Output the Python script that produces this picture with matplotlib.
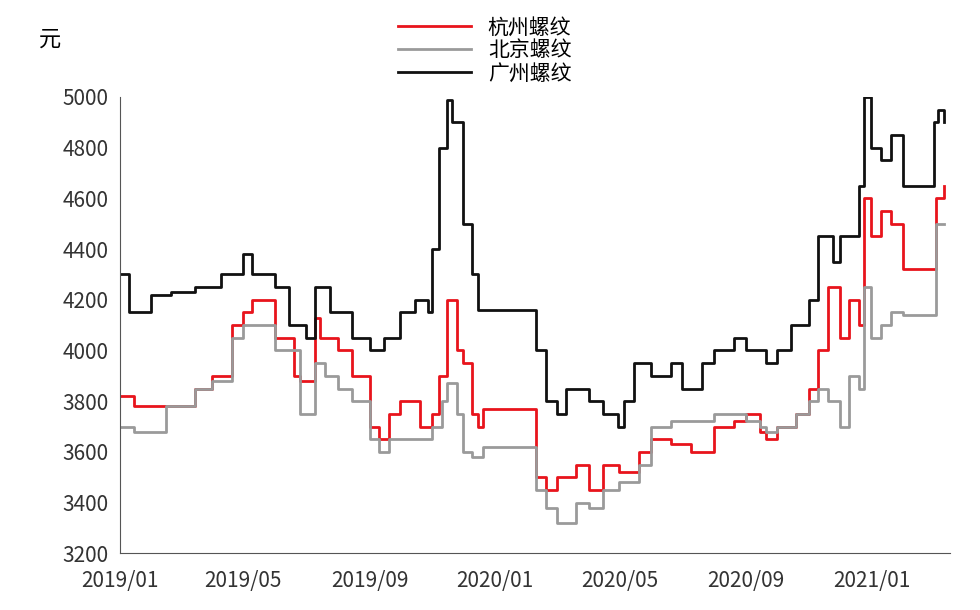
import matplotlib
matplotlib.use("Agg")
import matplotlib.pyplot as plt
import pandas as pd

plt.rcParams['font.family'] = ['Noto Sans CJK SC', 'DejaVu Sans']

gz_dates = ["2019-01-01","2019-01-10","2019-02-01","2019-02-20","2019-03-15","2019-04-10","2019-05-01","2019-05-10","2019-06-01","2019-06-15","2019-07-01","2019-07-10","2019-07-25","2019-08-15","2019-09-01","2019-09-15","2019-10-01","2019-10-15","2019-10-28","2019-11-01","2019-11-08","2019-11-15","2019-11-20","2019-12-01","2019-12-10","2019-12-15","2020-02-01","2020-02-10","2020-02-20","2020-03-01","2020-03-10","2020-04-01","2020-04-15","2020-04-30","2020-05-05","2020-05-15","2020-06-01","2020-06-20","2020-07-01","2020-07-20","2020-08-01","2020-08-20","2020-09-01","2020-09-20","2020-10-01","2020-10-15","2020-11-01","2020-11-10","2020-11-25","2020-12-01","2020-12-20","2020-12-25","2021-01-01","2021-01-10","2021-01-20","2021-02-01","2021-02-28","2021-03-03","2021-03-07","2021-03-13"]
gz_vals = [4300,4150,4220,4230,4250,4300,4380,4300,4250,4100,4050,4250,4150,4050,4000,4050,4150,4200,4150,4400,4800,4990,4900,4500,4300,4160,4160,4000,3800,3750,3850,3800,3750,3700,3800,3950,3900,3950,3850,3950,4000,4050,4000,3950,4000,4100,4200,4450,4350,4450,4650,5000,4800,4750,4850,4650,4650,4900,4950,4900]

hz_dates = ["2019-01-01","2019-01-15","2019-02-15","2019-03-15","2019-04-01","2019-04-20","2019-05-01","2019-05-10","2019-06-01","2019-06-20","2019-06-25","2019-07-10","2019-07-15","2019-08-01","2019-08-15","2019-09-01","2019-09-10","2019-09-20","2019-10-01","2019-10-20","2019-11-01","2019-11-08","2019-11-15","2019-11-25","2019-12-01","2019-12-10","2019-12-15","2019-12-20","2020-01-31","2020-02-10","2020-02-20","2020-03-01","2020-03-20","2020-04-01","2020-04-15","2020-05-01","2020-05-20","2020-06-01","2020-06-20","2020-07-10","2020-08-01","2020-08-20","2020-09-01","2020-09-15","2020-09-20","2020-10-01","2020-10-20","2020-11-01","2020-11-10","2020-11-20","2020-12-01","2020-12-10","2020-12-20","2020-12-25","2021-01-01","2021-01-10","2021-01-20","2021-02-01","2021-02-28","2021-03-05","2021-03-13"]
hz_vals = [3820,3780,3780,3850,3900,4100,4150,4200,4050,3900,3880,4130,4050,4000,3900,3700,3650,3750,3800,3700,3750,3900,4200,4000,3950,3750,3700,3770,3770,3500,3450,3500,3550,3450,3550,3520,3600,3650,3630,3600,3700,3720,3750,3680,3650,3700,3750,3850,4000,4250,4050,4200,4100,4600,4450,4550,4500,4320,4320,4600,4650]

bj_dates = ["2019-01-01","2019-01-15","2019-02-15","2019-03-15","2019-04-01","2019-04-20","2019-05-01","2019-05-15","2019-06-01","2019-06-25","2019-07-10","2019-07-20","2019-08-01","2019-08-15","2019-09-01","2019-09-10","2019-09-20","2019-10-01","2019-10-20","2019-11-01","2019-11-10","2019-11-15","2019-11-25","2019-12-01","2019-12-10","2019-12-20","2020-01-31","2020-02-10","2020-02-20","2020-03-01","2020-03-20","2020-04-01","2020-04-15","2020-05-01","2020-05-20","2020-06-01","2020-06-20","2020-07-10","2020-08-01","2020-08-20","2020-09-01","2020-09-15","2020-09-20","2020-10-01","2020-10-20","2020-11-01","2020-11-10","2020-11-20","2020-12-01","2020-12-10","2020-12-20","2020-12-25","2021-01-01","2021-01-10","2021-01-20","2021-02-01","2021-02-28","2021-03-05","2021-03-13"]
bj_vals = [3700,3680,3780,3850,3880,4050,4100,4100,4000,3750,3950,3900,3850,3800,3650,3600,3650,3650,3650,3700,3800,3870,3750,3600,3580,3620,3620,3450,3380,3320,3400,3380,3450,3480,3550,3700,3720,3720,3750,3750,3720,3700,3680,3700,3750,3800,3850,3800,3700,3900,3850,4250,4050,4100,4150,4140,4140,4500,4500]

labels = ["杭州螺纹", "北京螺纹", "广州螺纹"]
xtick_labels = ["2019/01","2019/05","2019/09","2020/01","2020/05","2020/09","2021/01"]

fig = plt.figure(figsize=(9.8, 6.1), dpi=100)
ax = fig.add_axes([0.122, 0.093, 0.847, 0.748])
ax.plot(pd.to_datetime(hz_dates), hz_vals, color="#e8141c", lw=2, drawstyle="steps-post", label=labels[0])
ax.plot(pd.to_datetime(bj_dates), bj_vals, color="#9a9a9a", lw=2, drawstyle="steps-post", label=labels[1])
ax.plot(pd.to_datetime(gz_dates), gz_vals, color="#111111", lw=2, drawstyle="steps-post", label=labels[2])

ax.set_ylim(3200, 5000)
ax.set_yticks(range(3200, 5001, 200))
ax.set_xlim(pd.Timestamp("2019-01-01"), pd.Timestamp("2021-03-18"))
ax.set_xticks(pd.to_datetime([s.replace("/", "-") + "-01" for s in xtick_labels]))
ax.set_xticklabels(xtick_labels)
ax.tick_params(labelsize=15, length=0, colors="#333333")
ax.tick_params(axis="x", pad=12)
ax.tick_params(axis="y", pad=8)
for s in ["top", "right"]:
    ax.spines[s].set_visible(False)
for s in ["left", "bottom"]:
    ax.spines[s].set_color("#555555")
fig.text(0.04, 0.925, "元", fontsize=16)
ax.legend(loc="lower center", bbox_to_anchor=(0.44, 1.0), frameon=False, fontsize=15,
          handlelength=3.5, labelspacing=0.05, borderpad=0.1)
fig.savefig("out.png", dpi=100)
